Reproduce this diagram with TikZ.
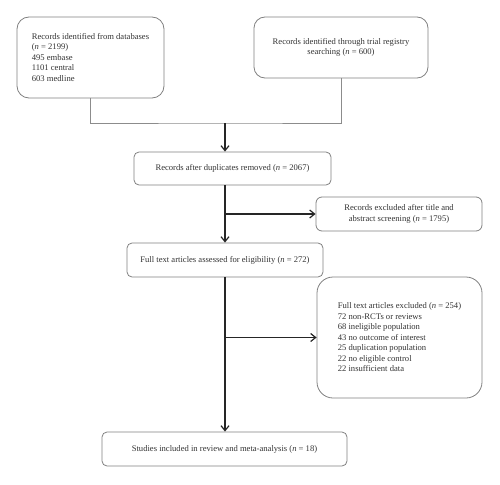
\documentclass[tikz,border=0pt]{standalone}
\usepackage{fontspec}
\setmainfont{Liberation Serif}
\usetikzlibrary{arrows.meta}
\begin{document}
\begin{tikzpicture}[x=1pt,y=-1pt,
  box/.style={draw=black!50, line width=0.8pt, align=left, inner sep=0pt,
    font=\fontsize{8.6}{10.5}\selectfont, text=black!80},
  feed/.style={draw=black!45, line width=0.9pt},
  flow/.style={draw=black!85, line width=1.2pt, -{Straight Barb[length=5pt,width=8pt,line width=1.2pt]}},
  trunk/.style={draw=black!85, line width=1.2pt}]
\useasboundingbox (0,0) rectangle (500,484);
\node[box, rounded corners=12pt, minimum width=147pt, minimum height=81pt] (b1) at (90.5,57.5)
  {Records identified from databases\\(\textit{n} = 2199)\\495 embase\\1101 central\\603 medline};
\node[box, align=center, rounded corners=11pt, minimum width=174pt, minimum height=61pt] (b2) at (341,47.5)
  {Records identified through trial registry\\searching (\textit{n} = 600)};
\node[box, align=center, rounded corners=5pt, minimum width=197pt, minimum height=33pt] (b3) at (232.5,168.5)
  {Records after duplicates removed (\textit{n} = 2067)};
\node[box, align=center, rounded corners=6pt, minimum width=166pt, minimum height=34pt] (b4) at (399,214)
  {Records excluded after title and\\abstract screening (\textit{n} = 1795)};
\node[box, align=center, rounded corners=5pt, minimum width=196pt, minimum height=34pt] (b5) at (225,260)
  {Full text articles assessed for eligibility (\textit{n} = 272)};
\node[box, rounded corners=16pt, minimum width=165pt, minimum height=121pt] (b6) at (399.5,337.5)
  {Full text articles excluded (\textit{n} = 254)\\72 non-RCTs or reviews\\68 ineligible population\\43 no outcome of interest\\25 duplication population\\22 no eligible control\\22 insufficient data};
\node[box, align=center, rounded corners=5pt, minimum width=245pt, minimum height=34pt] (b7) at (224.5,449)
  {Studies included in review and meta-analysis (\textit{n} = 18)};
\coordinate (j) at (225,123);
\draw[feed] (b1.south) |- (j) -| (b2.south);
\draw[flow] (j) -- (j |- b3.north);
\draw[trunk] (j |- b3.south) -- (j |- b4.west);
\draw[flow] (j |- b4.west) -- (b4.west);
\draw[flow] (j |- b4.west) -- (j |- b5.north);
\draw[trunk] (j |- b5.south) -- (j |- b6.west);
\draw[flow] (j |- b6.west) -- (b6.west);
\draw[flow] (j |- b6.west) -- (j |- b7.north);
\end{tikzpicture}
\end{document}
